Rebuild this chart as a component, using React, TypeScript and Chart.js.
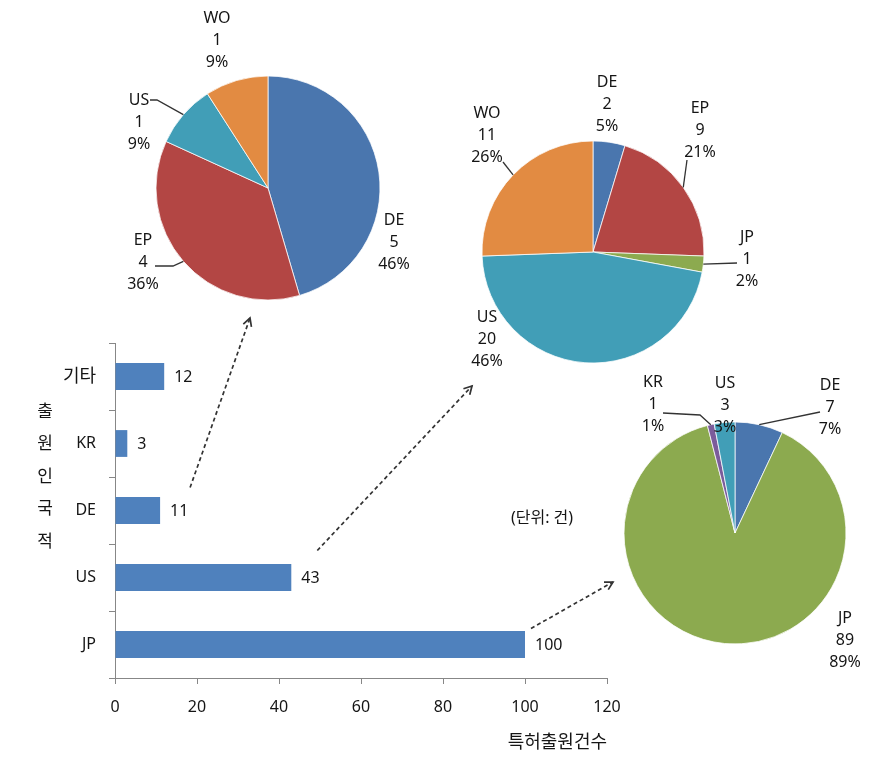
import React, { useEffect, useRef } from 'react';
import { Chart, registerables } from 'chart.js';

Chart.register(...registerables);

// ---------- data ----------
const barCategories = ['기타', 'KR', 'DE', 'US', 'JP'];
const barValues = [12, 3, 11, 43, 100];
const xMin = 0;
const xMax = 120;
const xStep = 20;
const xAxisTitle = '특허출원건수';
const yAxisTitle = ['출', '원', '인', '국', '적'];
const unitNote = '(단위: 건)';

const pieDELabels = ['DE', 'EP', 'US', 'WO'];
const pieDEValues = [5, 4, 1, 1];
const pieDEPct = ['46%', '36%', '9%', '9%'];

const pieUSLabels = ['DE', 'EP', 'JP', 'US', 'WO'];
const pieUSValues = [2, 9, 1, 20, 11];
const pieUSPct = ['5%', '21%', '2%', '46%', '26%'];

const pieJPLabels = ['DE', 'JP', 'KR', 'US'];
const pieJPValues = [7, 89, 1, 3];
const pieJPPct = ['7%', '89%', '1%', '3%'];

// ---------- styles / layout ----------
const W = 885;
const H = 759;
const FONT = "'Noto Sans', 'Noto Sans CJK KR', sans-serif";
const TEXT = '#151515';
const AXIS = '#878787';
const LEADER = '#333333';
const BAR_COLOR = '#4F81BD';
const LINE_H = 22;
const LATIN_SIZE = 16;

const countryColors: Record<string, string> = {
  DE: '#4A76AE',
  EP: '#B34644',
  US: '#419EB7',
  WO: '#E28B42',
  JP: '#8CAA4F',
  KR: '#7B5C9B',
};

type PieSpec = {
  labels: string[];
  values: number[];
  pct: string[];
  cx: number;
  cy: number;
  r: number;
  labelPos: number[][];
  leaders: (number[][] | null)[];
};

const pies: PieSpec[] = [
  {
    labels: pieDELabels,
    values: pieDEValues,
    pct: pieDEPct,
    cx: 268,
    cy: 188,
    r: 112,
    labelPos: [[126, 32], [-125, 52], [-129, -88], [-51, -170]],
    leaders: [null, [[-95, 78], [-113, 78]], [[-111, -88], [-118, -88]], null],
  },
  {
    labels: pieUSLabels,
    values: pieUSValues,
    pct: pieUSPct,
    cx: 593,
    cy: 252,
    r: 111,
    labelPos: [[14, -170], [107, -144], [154, -15], [-106, 65], [-106, -139]],
    leaders: [null, [[94, -92]], [[144, 11]], null, [[-90, -90]]],
  },
  {
    labels: pieJPLabels,
    values: pieJPValues,
    pct: pieJPPct,
    cx: 735,
    cy: 533,
    r: 111,
    labelPos: [[95, -148], [110, 85], [-82, -151], [-10, -150]],
    leaders: [[[85, -121]], null, [[-35, -118], [-72, -120]], null],
  },
];

// arrows: from a bar (offset from bar end) to a pie (offset from its centre)
const arrows = [
  { cat: 'DE', pie: 0, from: [30, -23], to: [-18, 130] },
  { cat: 'US', pie: 1, from: [26, -27], to: [-121, 134] },
  { cat: 'JP', pie: 2, from: [6, -16], to: [-122, 49] },
];

function drawArrow(ctx: CanvasRenderingContext2D, x1: number, y1: number, x2: number, y2: number) {
  ctx.save();
  ctx.strokeStyle = '#333333';
  ctx.lineWidth = 1.7;
  ctx.setLineDash([4, 3]);
  ctx.beginPath();
  ctx.moveTo(x1, y1);
  ctx.lineTo(x2, y2);
  ctx.stroke();
  ctx.setLineDash([]);
  const ang = Math.atan2(y2 - y1, x2 - x1);
  const len = 9;
  const spread = 0.5;
  ctx.beginPath();
  ctx.moveTo(x2 - len * Math.cos(ang - spread), y2 - len * Math.sin(ang - spread));
  ctx.lineTo(x2, y2);
  ctx.lineTo(x2 - len * Math.cos(ang + spread), y2 - len * Math.sin(ang + spread));
  ctx.stroke();
  ctx.restore();
}

const barDecor = {
  id: 'barDecor',
  afterDatasetsDraw(chart: any) {
    const ctx: CanvasRenderingContext2D = chart.ctx;
    const meta = chart.getDatasetMeta(0);
    ctx.save();
    ctx.fillStyle = TEXT;
    ctx.textBaseline = 'middle';
    ctx.textAlign = 'left';
    ctx.font = `${LATIN_SIZE}px ${FONT}`;
    meta.data.forEach((bar: any, i: number) => {
      ctx.fillText(String(barValues[i]), bar.x + 10, bar.y + 1);
    });
    // stacked vertical y-axis title
    ctx.textAlign = 'center';
    ctx.font = `17px ${FONT}`;
    yAxisTitle.forEach((ch, i) => ctx.fillText(ch, 45, 412 + i * 32.5));
    // unit note
    ctx.font = `16px ${FONT}`;
    ctx.fillText(unitNote, 542, 518);
    // arrows
    arrows.forEach((a) => {
      const bar = meta.data[barCategories.indexOf(a.cat)];
      const p = pies[a.pie];
      drawArrow(ctx, bar.x + a.from[0], bar.y + a.from[1], p.cx + a.to[0], p.cy + a.to[1]);
    });
    ctx.restore();
  },
};

function makePieLabelPlugin(p: PieSpec) {
  return {
    id: 'pieLabels',
    afterDatasetsDraw(chart: any) {
      const ctx: CanvasRenderingContext2D = chart.ctx;
      const meta = chart.getDatasetMeta(0);
      ctx.save();
      meta.data.forEach((arc: any, i: number) => {
        const { x, y, startAngle, endAngle, outerRadius } = arc.getProps(
          ['x', 'y', 'startAngle', 'endAngle', 'outerRadius'],
          true
        );
        const mid = (startAngle + endAngle) / 2;
        const ax = x + outerRadius * Math.cos(mid);
        const ay = y + outerRadius * Math.sin(mid);
        const leader = p.leaders[i];
        if (leader) {
          ctx.strokeStyle = LEADER;
          ctx.lineWidth = 1.3;
          ctx.beginPath();
          ctx.moveTo(ax, ay);
          leader.forEach((pt) => ctx.lineTo(x + pt[0], y + pt[1]));
          ctx.stroke();
        }
        const [lx, ly] = p.labelPos[i];
        ctx.fillStyle = TEXT;
        ctx.font = `${LATIN_SIZE}px ${FONT}`;
        ctx.textAlign = 'center';
        ctx.textBaseline = 'middle';
        [p.labels[i], String(p.values[i]), p.pct[i]].forEach((t, k) => {
          ctx.fillText(t, x + lx, y + ly + k * LINE_H);
        });
      });
      ctx.restore();
    },
  };
}

function BarCanvas() {
  const ref = useRef<HTMLCanvasElement>(null);
  useEffect(() => {
    if (!ref.current) return;
    const chart = new Chart(ref.current, {
      type: 'bar',
      data: {
        labels: barCategories,
        datasets: [
          {
            data: barValues,
            backgroundColor: BAR_COLOR,
            borderWidth: 0,
            barPercentage: 0.5,
            categoryPercentage: 0.8,
          },
        ],
      },
      options: {
        indexAxis: 'y',
        responsive: false,
        animation: false,
        layout: { padding: { left: 0, top: 343, right: W - 607, bottom: 0 } },
        plugins: { legend: { display: false }, tooltip: { enabled: false } },
        scales: {
          x: {
            min: xMin,
            max: xMax,
            ticks: { stepSize: xStep, font: { family: FONT, size: LATIN_SIZE }, color: TEXT, padding: 14 },
            grid: { display: true, drawOnChartArea: false, drawTicks: true, tickLength: 6, color: AXIS },
            border: { display: true, color: AXIS, width: 1 },
            title: {
              display: true,
              text: xAxisTitle,
              align: 'end',
              color: TEXT,
              font: { family: FONT, size: 18 },
              padding: { top: 0, bottom: 5 },
            },
            afterFit: (s: any) => {
              s.height = 81;
            },
          },
          y: {
            ticks: {
              font: (c: any) => ({
                family: FONT,
                size: /[\uAC00-\uD7A3]/.test(String(c.tick && c.tick.label)) ? 18 : LATIN_SIZE,
              }),
              color: TEXT,
              padding: 13,
            },
            grid: { display: true, drawOnChartArea: false, drawTicks: true, tickLength: 6, color: AXIS, offset: true },
            border: { display: true, color: AXIS, width: 1 },
            afterFit: (s: any) => {
              s.width = 115;
            },
          },
        },
      } as any,
      plugins: [barDecor],
    });
    return () => chart.destroy();
  }, []);
  return <canvas ref={ref} width={W} height={H} style={{ position: 'absolute', left: 0, top: 0, width: W, height: H }} />;
}

function PieCanvas({ spec }: { spec: PieSpec }) {
  const ref = useRef<HTMLCanvasElement>(null);
  useEffect(() => {
    if (!ref.current) return;
    const half = 130;
    const chart = new Chart(ref.current, {
      type: 'pie',
      data: {
        labels: spec.labels,
        datasets: [
          {
            data: spec.values,
            backgroundColor: spec.labels.map((l) => countryColors[l]),
            borderColor: 'rgba(255,255,255,0.75)',
            borderWidth: 1,
            radius: spec.r,
          } as any,
        ],
      },
      options: {
        responsive: false,
        animation: false,
        layout: {
          padding: {
            left: spec.cx - half,
            right: W - spec.cx - half,
            top: spec.cy - half,
            bottom: H - spec.cy - half,
          },
        },
        plugins: { legend: { display: false }, tooltip: { enabled: false } },
      } as any,
      plugins: [makePieLabelPlugin(spec)],
    });
    return () => chart.destroy();
  }, [spec]);
  return <canvas ref={ref} width={W} height={H} style={{ position: 'absolute', left: 0, top: 0, width: W, height: H }} />;
}

export default function App() {
  return (
    <div style={{ position: 'absolute', left: 0, top: 0, width: W, height: H, overflow: 'hidden', background: '#ffffff' }}>
      <BarCanvas />
      {pies.map((p, i) => (
        <PieCanvas key={i} spec={p} />
      ))}
    </div>
  );
}
